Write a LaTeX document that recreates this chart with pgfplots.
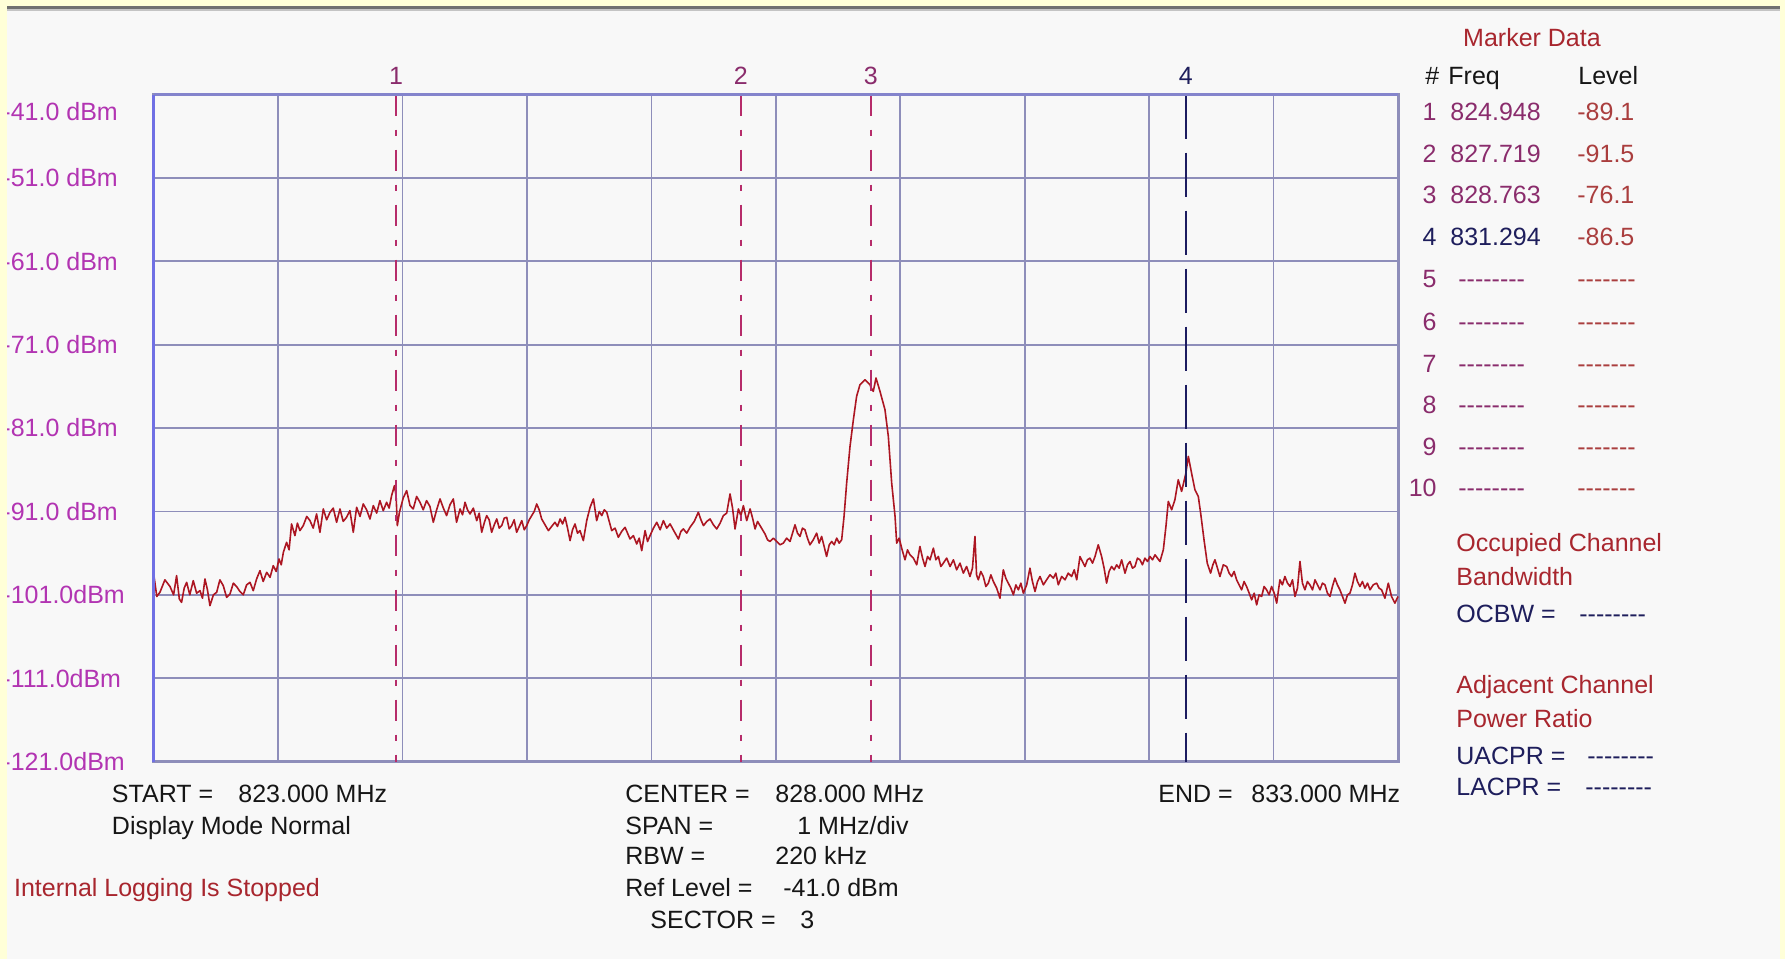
\documentclass[border=0pt]{standalone}
\usepackage{pgfplots}
\pgfplotsset{compat=1.18}
\usepackage{pgfplotstable}
\usepackage{fontspec}
\setmainfont{Liberation Sans}

\definecolor{bgpanel}{RGB}{248,248,248}
\definecolor{frameyellow}{RGB}{255,255,216}
\definecolor{framegray}{RGB}{112,112,112}
\definecolor{framelight}{RGB}{196,196,196}
\definecolor{gridblue}{RGB}{142,142,186}
\definecolor{edgeblue}{RGB}{112,112,228}
\definecolor{edgetop}{RGB}{132,132,204}
\definecolor{tracered}{RGB}{172,22,34}
\definecolor{mkmagenta}{RGB}{182,44,106}
\definecolor{mknavy}{RGB}{28,28,96}
\definecolor{lblmagenta}{RGB}{178,52,178}
\definecolor{txtred}{RGB}{168,38,46}
\definecolor{txtpurple}{RGB}{138,44,108}
\definecolor{txtlevel}{RGB}{170,62,62}
\definecolor{txtnavy}{RGB}{30,30,92}
\definecolor{txtblack}{RGB}{22,22,22}

\newcommand\uif{\fontsize{12.5}{15}\selectfont}
% a run of plain hyphens (no en/em dash ligatures)
\newcommand\hy{-{}}
\newcommand\freqdash{\hy\hy\hy\hy\hy\hy\hy\hy}
\newcommand\leveldash{\hy\hy\hy\hy\hy\hy\hy}

% spectrum trace: frequency (MHz), level (dBm)
\pgfplotstableread{
f y
823.000 -98.5
823.025 -101.2
823.050 -100.7
823.090 -99.2
823.131 -100.0
823.160 -101.0
823.184 -98.7
823.206 -101.5
823.224 -101.9
823.245 -100.2
823.265 -99.5
823.290 -101.0
823.318 -99.3
823.345 -100.8
823.372 -100.5
823.392 -101.4
823.412 -99.1
823.432 -100.4
823.452 -102.3
823.480 -101.0
823.506 -100.7
823.532 -99.2
823.559 -99.9
823.586 -101.3
823.613 -100.9
823.640 -99.6
823.666 -100.0
823.693 -100.6
823.720 -101.0
823.747 -99.8
823.774 -99.5
823.800 -100.5
823.827 -99.1
823.854 -98.1
823.880 -99.4
823.908 -98.3
823.935 -98.9
823.961 -97.5
823.985 -98.2
824.007 -96.7
824.025 -97.4
824.042 -95.9
824.068 -94.7
824.088 -95.6
824.108 -92.5
824.135 -93.9
824.155 -92.4
824.175 -93.3
824.202 -92.7
824.230 -91.6
824.256 -92.1
824.282 -93.0
824.309 -91.3
824.336 -93.5
824.363 -90.7
824.390 -92.0
824.417 -91.1
824.443 -90.6
824.470 -92.3
824.497 -90.7
824.523 -92.2
824.550 -91.7
824.577 -90.9
824.604 -93.5
824.631 -90.5
824.658 -91.6
824.684 -90.1
824.711 -90.8
824.738 -91.9
824.765 -90.3
824.792 -91.2
824.818 -89.7
824.845 -90.9
824.872 -89.9
824.892 -90.6
824.912 -89.1
824.935 -87.9
824.948 -89.1
824.958 -92.7
824.975 -91.1
825.005 -89.4
825.033 -88.5
825.060 -90.3
825.086 -90.7
825.113 -89.2
825.140 -89.9
825.166 -90.8
825.193 -89.7
825.220 -90.4
825.247 -92.3
825.274 -90.8
825.301 -89.5
825.328 -90.6
825.354 -91.5
825.381 -90.2
825.408 -89.5
825.434 -92.3
825.462 -90.7
825.482 -91.4
825.502 -89.9
825.522 -90.8
825.542 -91.3
825.569 -90.6
825.596 -92.1
825.616 -91.2
825.636 -93.5
825.656 -92.4
825.676 -91.5
825.696 -92.0
825.716 -93.5
825.737 -92.6
825.757 -91.9
825.777 -93.0
825.797 -92.7
825.817 -91.8
825.837 -91.7
825.857 -93.1
825.877 -92.7
825.897 -92.0
825.917 -93.5
825.938 -92.8
825.958 -92.1
825.978 -93.2
825.998 -92.7
826.018 -92.0
826.038 -91.5
826.058 -91.0
826.078 -90.1
826.098 -90.8
826.118 -91.9
826.145 -92.6
826.172 -93.3
826.198 -92.8
826.225 -92.3
826.245 -92.8
826.266 -91.9
826.286 -92.5
826.306 -91.7
826.326 -93.0
826.346 -94.5
826.366 -93.2
826.386 -92.5
826.406 -93.6
826.426 -93.3
826.453 -94.5
826.480 -92.1
826.507 -90.5
826.534 -89.5
826.560 -92.1
826.581 -91.0
826.601 -91.5
826.621 -90.8
826.641 -91.1
826.661 -92.2
826.681 -93.3
826.708 -93.0
826.734 -94.1
826.761 -93.4
826.788 -92.9
826.808 -93.6
826.828 -94.3
826.855 -93.9
826.882 -94.9
826.902 -94.2
826.922 -95.7
826.949 -93.3
826.969 -94.6
826.989 -93.9
827.016 -93.0
827.043 -92.3
827.070 -93.2
827.096 -92.1
827.123 -93.0
827.150 -92.5
827.183 -93.4
827.217 -94.3
827.237 -93.4
827.257 -93.1
827.284 -93.6
827.310 -92.9
827.344 -92.2
827.377 -91.1
827.398 -92.0
827.418 -92.7
827.445 -92.2
827.471 -91.9
827.498 -92.6
827.525 -93.1
827.552 -92.4
827.578 -91.5
827.605 -91.2
827.632 -88.9
827.652 -90.6
827.672 -93.1
827.699 -90.7
827.719 -91.5
827.739 -90.3
827.766 -92.1
827.793 -90.7
827.813 -91.8
827.833 -93.1
827.853 -92.2
827.873 -92.7
827.893 -93.2
827.913 -93.7
827.933 -94.4
827.953 -94.6
827.980 -94.2
828.007 -94.6
828.034 -95.0
828.060 -94.8
828.087 -94.2
828.114 -94.6
828.154 -92.6
828.174 -93.6
828.194 -94.0
828.214 -93.0
828.234 -93.2
828.254 -94.2
828.274 -95.0
828.301 -94.4
828.328 -93.6
828.348 -94.8
828.368 -94.0
828.388 -95.2
828.408 -96.4
828.429 -95.0
828.449 -94.6
828.469 -95.0
828.489 -94.2
828.509 -94.8
828.529 -94.4
828.548 -91.6
828.569 -87.6
828.596 -83.2
828.623 -80.0
828.649 -77.2
828.676 -75.8
828.716 -75.2
828.757 -75.8
828.763 -76.1
828.783 -76.6
828.805 -75.0
828.837 -76.6
828.877 -78.8
828.904 -82.0
828.931 -87.6
828.958 -91.6
828.971 -94.8
828.991 -94.2
829.011 -95.4
829.038 -96.8
829.058 -95.6
829.078 -96.2
829.105 -96.6
829.132 -97.4
829.158 -95.2
829.179 -96.6
829.199 -97.6
829.219 -96.4
829.239 -96.8
829.266 -95.4
829.286 -96.8
829.306 -96.4
829.326 -97.6
829.346 -97.2
829.373 -96.6
829.400 -97.6
829.427 -96.8
829.453 -98.0
829.480 -97.2
829.507 -98.4
829.533 -97.6
829.560 -98.8
829.580 -97.8
829.600 -94.0
829.613 -98.6
829.627 -99.2
829.647 -98.2
829.667 -98.8
829.688 -100.0
829.708 -99.6
829.728 -98.6
829.748 -99.4
829.775 -100.2
829.801 -101.4
829.828 -98.0
829.848 -99.0
829.868 -99.6
829.889 -100.2
829.909 -101.0
829.929 -99.8
829.949 -100.4
829.969 -99.6
829.989 -100.8
830.016 -99.8
830.042 -97.8
830.062 -99.4
830.083 -100.6
830.103 -99.4
830.123 -98.8
830.150 -99.8
830.176 -99.2
830.203 -98.6
830.230 -99.0
830.250 -98.4
830.270 -99.8
830.297 -98.8
830.324 -99.2
830.350 -98.4
830.377 -98.8
830.398 -98.0
830.418 -99.2
830.444 -96.4
830.464 -97.0
830.484 -97.6
830.504 -96.8
830.524 -96.6
830.545 -97.2
830.565 -96.4
830.591 -95.0
830.618 -96.4
830.638 -97.8
830.658 -99.6
830.678 -98.2
830.698 -97.6
830.719 -98.0
830.739 -97.4
830.759 -97.8
830.779 -96.8
830.806 -98.4
830.826 -97.4
830.846 -97.0
830.866 -97.8
830.886 -97.6
830.906 -96.6
830.926 -96.8
830.946 -97.4
830.966 -96.6
830.987 -97.0
831.007 -96.4
831.027 -96.8
831.047 -96.2
831.067 -96.6
831.087 -97.0
831.114 -95.6
831.135 -92.8
831.154 -89.8
831.181 -90.8
831.207 -89.6
831.234 -87.2
831.261 -88.6
831.294 -86.5
831.315 -84.4
831.341 -86.4
831.368 -88.4
831.395 -89.2
831.414 -91.2
831.441 -94.4
831.467 -97.2
831.494 -98.4
831.512 -97.4
831.529 -96.8
831.549 -97.8
831.569 -98.8
831.596 -97.4
831.623 -97.6
831.643 -98.4
831.663 -98.8
831.683 -98.2
831.703 -99.2
831.723 -99.8
831.743 -100.4
831.763 -99.4
831.783 -100.0
831.804 -100.8
831.824 -101.6
831.844 -100.8
831.864 -102.2
831.884 -101.0
831.904 -101.2
831.924 -100.0
831.944 -100.4
831.964 -101.0
831.984 -100.0
832.005 -100.8
832.025 -102.0
832.051 -99.2
832.071 -99.8
832.091 -98.8
832.112 -99.6
832.132 -100.0
832.152 -99.2
832.172 -101.2
832.192 -100.2
832.212 -97.0
832.232 -99.6
832.252 -100.4
832.272 -99.4
832.292 -99.8
832.313 -100.4
832.333 -99.2
832.353 -99.8
832.373 -100.4
832.393 -99.6
832.413 -99.8
832.433 -100.8
832.453 -101.2
832.473 -100.0
832.493 -99.0
832.513 -99.8
832.533 -100.4
832.554 -101.2
832.574 -102.0
832.594 -101.0
832.614 -100.8
832.634 -99.8
832.654 -98.4
832.674 -99.4
832.694 -100.0
832.714 -99.4
832.734 -100.2
832.755 -99.6
832.775 -100.4
832.801 -99.8
832.828 -99.6
832.848 -100.2
832.868 -100.4
832.895 -101.4
832.922 -99.6
832.948 -101.2
832.975 -102.0
833.000 -101.2
}\tracedata

\begin{document}
\begin{tikzpicture}[x=0.5pt,y=-0.5pt,
  t/.style={anchor=base west,inner sep=0pt,font=\uif,text=txtblack},
  te/.style={t,anchor=base east}]
\fill[bgpanel] (0,0) rectangle (1785,959);
\path[use as bounding box] (0,0) rectangle (1785,959);

\begin{axis}[
  at={(76.85pt,-380.8pt)}, anchor=south west,
  scale only axis, width=622.15pt, height=333.55pt,
  xmin=823, xmax=833, ymin=-121, ymax=-41,
  xtick={823,824,...,833}, xticklabels={},
  ytick={-121,-111,-101,-91,-81,-71,-61,-51},
  yticklabels={-121.0dBm,-111.0dBm,-101.0dBm,-91.0 dBm,-81.0 dBm,-71.0 dBm,-61.0 dBm,-51.0 dBm},
  extra y ticks={-43.04}, extra y tick labels={-41.0 dBm},
  extra y tick style={grid=none},
  major tick length=0pt,
  grid=major,
  major grid style={gridblue,line width=0.9pt},
  axis line style={gridblue,line width=1.5pt},
  yticklabel style={anchor=west,inner sep=0pt,xshift=-75.8pt,
    font=\uif,text=lblmagenta},
  clip=false,
]
\addplot[tracered,line width=0.8pt,line join=round,mark=none] table[x=f,y=y] {\tracedata};

% markers 1-3
\addplot[mkmagenta,line width=1pt,dash pattern=on 10.5pt off 7pt on 3pt off 7pt] coordinates {(824.948,-41) (824.948,-121)};
\addplot[mkmagenta,line width=1pt,dash pattern=on 10.5pt off 7pt on 3pt off 7pt] coordinates {(827.719,-41) (827.719,-121)};
\addplot[mkmagenta,line width=1pt,dash pattern=on 10.5pt off 7pt on 3pt off 7pt] coordinates {(828.763,-41) (828.763,-121)};
% marker 4
\addplot[mknavy,line width=1.2pt,dash pattern=on 22pt off 7pt] coordinates {(831.294,-41) (831.294,-121)};

\node[anchor=base,inner sep=0pt,font=\uif,text=txtpurple,yshift=5.25pt] at (axis cs:824.948,-41) {1};
\node[anchor=base,inner sep=0pt,font=\uif,text=txtpurple,yshift=5.25pt] at (axis cs:827.719,-41) {2};
\node[anchor=base,inner sep=0pt,font=\uif,text=txtpurple,yshift=5.25pt] at (axis cs:828.763,-41) {3};
\node[anchor=base,inner sep=0pt,font=\uif,text=txtnavy,yshift=5.25pt] at (axis cs:831.294,-41) {4};

\draw[edgetop,line width=1.6pt] (rel axis cs:0,1) -- (rel axis cs:1,1);
\draw[edgeblue,line width=1.8pt] (rel axis cs:0,0) -- (rel axis cs:0,1);
\end{axis}

% settings below the display
\node[t] at (111.6,802.5) {START =};
\node[t] at (238,802.5) {823.000 MHz};
\node[t] at (111.6,834) {Display Mode Normal};
\node[t,text=txtred] at (13.7,896) {Internal Logging Is Stopped};
\node[t] at (625,802.5) {CENTER =};
\node[t] at (775,802.5) {828.000 MHz};
\node[t] at (625,834) {SPAN =};
\node[t] at (797,834) {1 MHz/div};
\node[t] at (625,864) {RBW =};
\node[t] at (775,864) {220 kHz};
\node[t] at (625,896) {Ref Level =};
\node[t] at (783,896) {-41.0 dBm};
\node[t] at (650,928) {SECTOR =};
\node[t] at (800,928) {3};
\node[t] at (1158,802.5) {END =};
\node[t] at (1251,802.5) {833.000 MHz};

% marker table
\node[anchor=base,inner sep=0pt,font=\uif,text=txtred] at (1532,46.6) {Marker Data};
\node[t] at (1425,84) {\#};
\node[t] at (1448,84) {Freq};
\node[t] at (1578,84) {Level};
\node[te,text=txtpurple] at (1437,120.6) {1};
\node[t,text=txtpurple] at (1450,120.6) {824.948};
\node[t,text=txtlevel] at (1577,120.6) {-89.1};
\node[te,text=txtpurple] at (1437,162.7) {2};
\node[t,text=txtpurple] at (1450,162.7) {827.719};
\node[t,text=txtlevel] at (1577,162.7) {-91.5};
\node[te,text=txtpurple] at (1437,203.7) {3};
\node[t,text=txtpurple] at (1450,203.7) {828.763};
\node[t,text=txtlevel] at (1577,203.7) {-76.1};
\node[te,text=txtnavy] at (1437,245.8) {4};
\node[t,text=txtnavy] at (1450,245.8) {831.294};
\node[t,text=txtlevel] at (1577,245.8) {-86.5};
\foreach \n/\yb in {5/287.9,6/330,7/372.2,8/413.1,9/455.2,10/496.2}{
  \node[te,text=txtpurple] at (1437,\yb) {\n};
  \node[t,text=txtpurple] at (1458,\yb) {\freqdash};
  \node[t,text=txtlevel] at (1577,\yb) {\leveldash};
}

% channel measurements
\node[t,text=txtred] at (1456,551) {Occupied Channel};
\node[t,text=txtred] at (1456,585) {Bandwidth};
\node[t,text=txtnavy] at (1456,622.6) {OCBW =};
\node[t,text=txtnavy] at (1579,622.6) {\freqdash};
\node[t,text=txtred] at (1456,693) {Adjacent Channel};
\node[t,text=txtred] at (1456,727) {Power Ratio};
\node[t,text=txtnavy] at (1456,764) {UACPR =};
\node[t,text=txtnavy] at (1587,764) {\freqdash};
\node[t,text=txtnavy] at (1456,795.6) {LACPR =};
\node[t,text=txtnavy] at (1585,795.6) {\freqdash};

% window frame
\fill[frameyellow] (0,0) rectangle (1785,6);
\fill[framegray] (7,6) rectangle (1780,8.5);
\fill[framelight] (7,8.5) rectangle (1780,11);
\fill[frameyellow] (0,0) rectangle (7,959);
\fill[frameyellow] (1780,0) rectangle (1785,959);
\end{tikzpicture}
\end{document}
